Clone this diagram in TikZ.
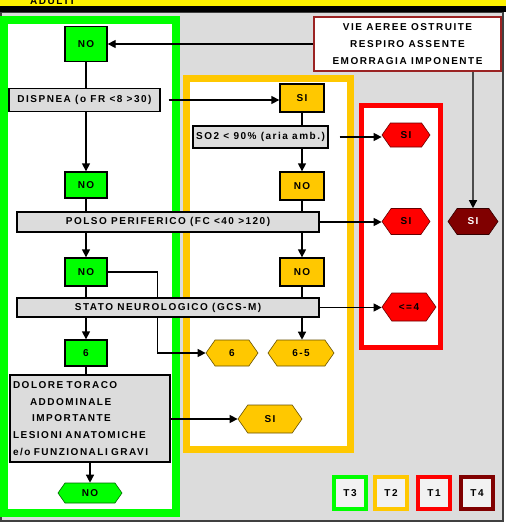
\documentclass[tikz,border=0pt]{standalone}
\usepackage{fontspec}
\usepackage{tikz}
\usetikzlibrary{arrows.meta,shapes.symbols,backgrounds}
\newfontfamily\lblfont[LetterSpace=15]{Liberation Sans}
\definecolor{bggray}{HTML}{DCDCDC}
\definecolor{tgreen}{HTML}{00FF00}
\definecolor{tyellow}{HTML}{FFC800}
\definecolor{tred}{HTML}{FF0000}
\definecolor{tdark}{HTML}{800000}
\definecolor{boxred}{HTML}{9B2323}
\tikzset{
	lbl/.style={font=\lblfont\bfseries\fontsize{10}{11}\selectfont, inner sep=0pt},
	greenbox/.style={lbl, draw=black, line width=1.3pt, fill=tgreen, minimum width=42pt, minimum height=28pt},
	yellowbox/.style={lbl, draw=black, line width=1.3pt, fill=tyellow, minimum width=44pt, minimum height=28pt},
	graybox/.style={lbl, draw=black, line width=1.3pt, fill=bggray},
	hexbox/.style={lbl, shape=signal, signal to=east and west, signal pointer angle=110, draw=black!60!#1, line width=0.6pt, fill=#1, minimum height=26pt},
	legendbox/.style={lbl, draw=#1, line width=4pt, fill=black!5, minimum width=32pt, minimum height=32pt},
	arr/.style={line width=1.3pt, -{Triangle[length=8pt,width=8pt]}},
	ln/.style={line width=1.3pt}
}
\begin{document}
	\begin{tikzpicture}[x=1pt, y=-1pt]
		%%%%% START %%%%%
		\useasboundingbox (0, 0) rectangle (506, 525);
		
		\begin{scope}[on background layer]
			\draw[fill=white, draw=none] (0, 0) rectangle (506, 525);
			\draw[fill=bggray, draw=black!75, line width=1.5pt] (1, 12) rectangle (503, 521);
			\fill[yellow] (0, 0) rectangle (506, 6);
			\fill[black] (0, 6) rectangle (506, 12);
			\begin{scope}
				\clip (0, 0) rectangle (506, 6);
				\node[lbl, anchor=base west, font=\lblfont\bfseries\fontsize{10}{12}\selectfont] at (30, 4.5) {ADULTI};
			\end{scope}
			
			\draw[fill=white, draw=tgreen, line width=8pt] (4, 19.5) rectangle (175.5, 513);
			\draw[fill=white, draw=tyellow, line width=7pt] (186.5, 78) rectangle (350, 449.5);
			\draw[fill=white, draw=tred, line width=5pt] (361.5, 105.5) rectangle (440.5, 347);
		\end{scope}
		
		\node[lbl, draw=boxred, line width=1.5pt, fill=white, minimum width=187pt, minimum height=54pt, align=center, font=\lblfont\bfseries\fontsize{10}{17}\selectfont] (vie) at (407.5, 44) {VIE AEREE OSTRUITE\\RESPIRO ASSENTE\\EMORRAGIA IMPONENTE};
		
		\node[greenbox, minimum height=35pt] (g1) at (86, 44) {NO};
		\node[graybox, minimum width=151pt, minimum height=23pt] (dispnea) at (84.5, 100) {DISPNEA (o FR <8 >30)};
		\node[yellowbox] (y1) at (302, 98) {SI};
		\node[graybox, minimum width=135pt, minimum height=22pt] (so2) at (260.5, 137) {SO2 < 90\% (aria amb.)};
		\node[hexbox=tred, minimum width=48pt, minimum height=24pt] (r1) at (406, 135) {SI};
		
		\node[greenbox, minimum height=26pt] (g2) at (86, 185) {NO};
		\node[yellowbox] (y2) at (302, 186) {NO};
		\node[graybox, minimum width=302pt, minimum height=20pt] (polso) at (168, 222) {POLSO PERIFERICO (FC <40 >120)};
		\node[hexbox=tred, minimum width=48pt] (r2) at (406, 221.5) {SI};
		\node[hexbox=tdark, minimum width=50pt, text=white] (dk) at (473, 221.5) {SI};
		
		\node[greenbox] (g3) at (86, 272) {NO};
		\node[yellowbox] (y3) at (302, 272) {NO};
		\node[graybox, minimum width=302pt, minimum height=19pt] (stato) at (168, 307.5) {STATO NEUROLOGICO (GCS-M)};
		\node[hexbox=tred, minimum width=54pt, minimum height=28pt] (r3) at (409, 307) {<=4};
		
		\node[greenbox, minimum height=26pt] (g4) at (86, 353) {6};
		\node[hexbox=tyellow, minimum width=52pt] (yh1) at (232, 353) {6};
		\node[hexbox=tyellow, minimum width=66pt] (yh2) at (301, 353) {6-5};
		
		\node[graybox, minimum width=160pt, minimum height=87pt, text width=154pt, align=left, font=\lblfont\bfseries\fontsize{10}{16.7}\selectfont] (dolore) at (90, 418.5) {DOLORE TORACO\\\hspace*{17pt}ADDOMINALE\\\hspace*{19pt}IMPORTANTE\\LESIONI ANATOMICHE\\e/o FUNZIONALI GRAVI};
		\node[hexbox=tyellow, minimum width=64pt, minimum height=28pt] (yh3) at (270, 419) {SI};
		\node[hexbox=tgreen, minimum width=64pt, minimum height=20pt] (gh) at (90, 493) {NO};
		
		\node[legendbox=tgreen] (t3) at (350, 493) {T3};
		\node[legendbox=tyellow] (t2) at (391, 493) {T2};
		\node[legendbox=tred] (t1) at (434, 493) {T1};
		\node[legendbox=tdark] (t4) at (477, 493) {T4};
		
		\begin{scope}[on background layer]
			\draw[arr] (vie.west) -- (vie.west -| g1.east);
			\draw[ln] (g1) -- (g1 |- dispnea.north);
			\draw[arr] (g1 |- dispnea.south) -- (g2);
			\draw[arr, shorten <=8pt] (dispnea.east) -- (dispnea.east -| y1.west);
			\draw[ln] (y1) -- (y1 |- so2.north);
			\draw[arr] (y1 |- so2.south) -- (y2);
			\draw[arr, shorten <=11pt] (so2.east) -- (so2.east -| r1.west);
			
			\draw[ln] (g2) -- (g2 |- polso.north);
			\draw[ln] (y2) -- (y2 |- polso.north);
			\draw[arr] (g2 |- polso.south) -- (g3);
			\draw[arr] (y2 |- polso.south) -- (y3);
			\draw[arr] (polso.east) -- (polso.east -| r2.west);
			\draw[arr] (vie.south -| dk) -- (dk);
			
			\draw[ln] (g3) -- (g3 |- stato.north);
			\draw[ln] (y3) -- (y3 |- stato.north);
			\draw[arr] (g3 |- stato.south) -- (g4);
			\draw[arr] (y3 |- stato.south) -- (y3 |- yh2.north);
			\draw[arr] (stato.east) -- (stato.east -| r3.west);
			\draw[arr] (g3.east) -- ++(50, 0) |- (yh1.west);
			
			\draw[ln] (g4) -- (g4 |- dolore.north);
			\draw[arr] (dolore.east |- yh3) -- (yh3.west);
			\draw[arr] (dolore.south) -- (gh.north);
		\end{scope}
		
		%%%%% END %%%%%
	\end{tikzpicture}
\end{document}
